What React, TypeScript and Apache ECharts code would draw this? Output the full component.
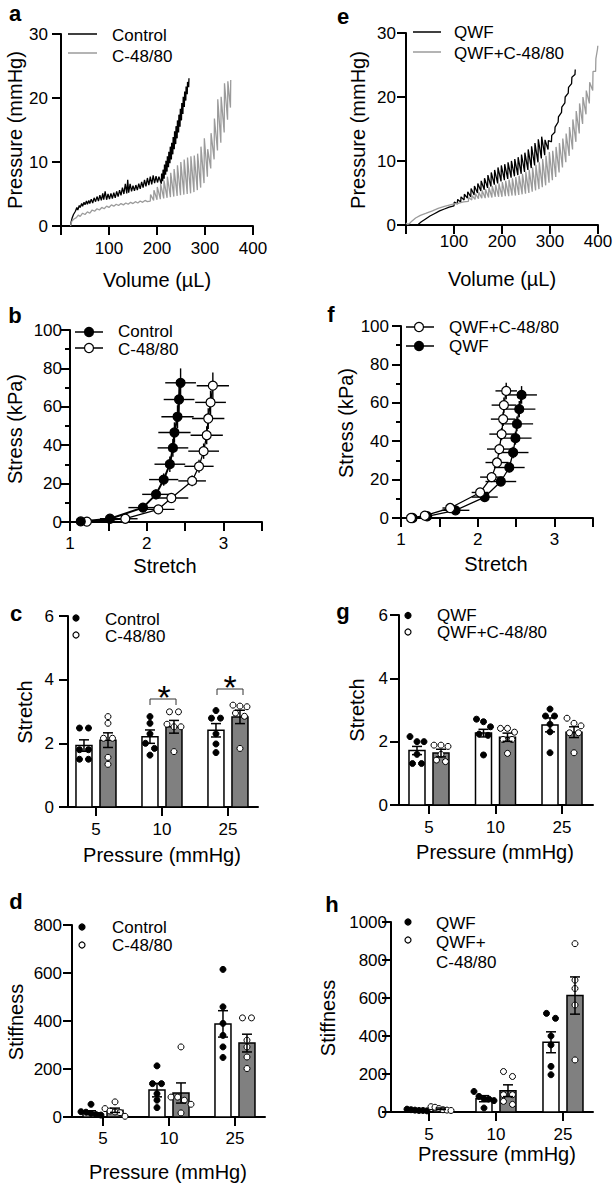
import React, { useEffect, useRef } from "react";
import * as echarts from "echarts";

const FONT = '"Liberation Sans", Arial, Helvetica, sans-serif';
const GRAY_LINE = "#9b9b9b";
const GRAY_BAR = "#808080";

// ---------- Panel a : pressure-volume (Control vs C-48/80) ----------
const aControlCurve: number[][] = [[20,0],[21,0.6],[23,1.2],[26,1.8],[30,2.3],[33,2.9],[35,2.5],[38,3.2],[40,2.9],[43,3.5],[45,3.1],[48,3.7],[50,3.3],[53,3.9],[55,3.4],[58,4.0],[60,3.5],[63,4.2],[66,3.6],[69,4.4],[72,3.8],[75,4.6],[78,3.9],[81,4.8],[84,4.0],[87,5.1],[89,4.1],[92,5.4],[95,4.1],[98,5.0],[101,4.2],[104,5.1],[107,4.3],[110,5.2],[113,4.4],[116,5.4],[119,4.6],[122,5.6],[125,4.8],[128,6.0],[131,5.0],[134,6.6],[137,5.1],[139,7.2],[141,5.2],[144,6.6],[147,5.4],[150,6.3],[153,5.5],[156,6.4],[159,5.6],[162,6.6],[165,5.8],[168,6.9],[171,6.0],[174,7.2],[177,6.2],[180,7.5],[183,6.4],[186,7.7],[189,6.5],[192,7.9],[195,6.7],[198,7.8],[201,6.8],[204,7.7]];
// [volume, trough, peak]
const aControlTeeth: number[][] = [[209,6.6,8.2],[212,7.0,8.8],[215,7.4,9.6],[218,8.0,10.2],[221,8.5,10.9],[224,9.2,11.6],[227,9.8,12.4],[230,10.4,13.0],[233,11.2,13.9],[236,12.0,14.8],[239,12.8,15.6],[242,13.7,16.5],[245,14.6,17.4],[248,15.5,18.3],[251,16.5,19.2],[254,17.5,20.2],[257,18.6,21.0],[260,19.6,21.8],[263,20.6,22.5],[266,21.7,23.1]];
const aC4880Curve: number[][] = [[20,0],[21,0.4],[23,0.8],[27,1.1],[32,1.3],[36,1.7],[40,1.5],[45,2.0],[50,1.8],[55,2.2],[60,2.0],[65,2.5],[70,2.3],[75,2.7],[80,2.5],[85,2.9],[90,2.7],[95,3.1],[100,2.9],[105,3.3],[110,3.1],[115,3.4],[120,3.2],[125,3.5],[130,3.3],[135,3.6],[140,3.4],[145,3.7],[150,3.5],[155,3.8],[160,3.6],[165,3.9],[170,3.7],[175,4.0],[180,3.8]];
const aC4880Teeth: number[][] = [[186,3.9,4.9],[193,4.0,5.6],[200,4.1,6.1],[207,4.2,6.6],[214,4.3,7.1],[221,4.4,7.7],[228,4.5,8.3],[235,4.6,8.9],[242,4.7,9.5],[249,4.8,10.0],[256,4.9,10.4],[263,5.0,10.7],[270,5.1,10.9],[277,5.3,11.0],[284,5.6,11.3],[291,6.0,12.4],[298,6.7,13.7],[305,7.7,12.0],[312,9.0,14.5],[319,10.4,16.8],[326,11.8,19.8],[333,13.0,20.2],[340,14.6,22.3],[347,16.6,22.6],[353,18.5,22.8]];

// ---------- Panel e : pressure-volume (QWF vs QWF+C-48/80) ----------
const eQwfCurve: number[][] = [[25,0],[27,0.2],[32,0.5],[40,0.9],[50,1.4],[60,1.8],[70,2.2],[80,2.5],[90,2.8]];
const eQwfTeeth: number[][] = [[100,3.0,3.6],[107,3.3,4.0],[114,3.6,4.4],[121,3.9,4.8],[128,4.2,5.2],[135,4.4,5.7],[142,4.7,6.1],[149,5.0,6.5],[156,5.3,6.9],[163,5.5,7.3],[170,5.8,7.8],[177,6.0,8.2],[184,6.3,8.6],[191,6.5,9.0],[198,6.8,9.3],[205,7.0,9.5],[212,7.2,9.8],[219,7.4,10.0],[226,7.6,10.3],[233,7.8,10.6],[240,8.0,11.0],[247,8.3,11.3],[254,8.6,11.8],[261,8.9,12.3],[268,9.3,12.8],[275,9.8,13.4],[282,10.4,13.8],[289,10.9,13.3],[296,11.8,13.2],[303,13.0,14.0],[310,14.5,15.3],[317,16.1,16.9],[324,17.6,18.4],[331,19.1,20.0],[338,20.6,21.5],[345,22.1,23.1],[352,23.5,24.3]];
const eQwfC4880Curve: number[][] = [[0,0.3],[3,0.1],[7,0.2],[12,0.6],[20,1.1],[30,1.5],[41,1.8],[55,2.2],[67,2.6],[80,2.9],[90,3.1],[100,3.3],[110,3.4],[120,3.6]];
const eQwfC4880Teeth: number[][] = [[130,3.7,4.3],[137,3.9,4.6],[144,4.0,4.9],[151,4.1,5.1],[158,4.2,5.4],[165,4.2,5.6],[172,4.3,5.9],[179,4.3,6.1],[186,4.4,6.3],[193,4.4,6.5],[200,4.4,6.7],[207,4.5,6.9],[214,4.5,7.1],[221,4.6,7.3],[228,4.6,7.5],[235,4.7,7.7],[242,4.8,8.0],[249,4.9,8.3],[256,5.0,8.6],[263,5.2,9.0],[270,5.4,9.4],[277,5.6,9.8],[284,5.9,10.3],[291,6.2,10.8],[298,6.6,11.4],[305,7.0,11.6],[312,7.5,12.2],[319,8.2,12.8],[326,9.0,13.5],[333,9.8,14.3],[340,10.8,15.3],[347,11.8,16.5],[354,13.0,17.8],[361,14.3,19.0],[368,15.8,20.0],[375,17.3,21.0],[382,19.0,22.3],[389,21.0,24.0],[395,24.0,26.0],[399,27.5,28.0]];

// ---------- Panel b : stress-stretch ----------
const bControlStretch = [1.14, 1.52, 1.95, 2.12, 2.22, 2.30, 2.34, 2.36, 2.40, 2.42, 2.44];
const bControlStretchErr = [0.03, 0.13, 0.19, 0.18, 0.19, 0.2, 0.2, 0.21, 0.21, 0.2, 0.2];
const bControlStress = [0.3, 1.7, 7.5, 14.4, 22.1, 30.1, 38.6, 46.6, 54.8, 63.8, 72.5];
const bControlStressErr = [0.2, 0.6, 1.5, 2.5, 3.2, 4, 4.6, 5.3, 6, 6.7, 7.5];
const bC4880Stretch = [1.22, 1.72, 2.15, 2.32, 2.59, 2.68, 2.74, 2.78, 2.80, 2.83, 2.86];
const bC4880StretchErr = [0.05, 0.16, 0.21, 0.22, 0.18, 0.19, 0.2, 0.21, 0.21, 0.2, 0.21];
const bC4880Stress = [0.2, 1.7, 6.6, 12.5, 21.4, 29.0, 36.9, 45.2, 53.9, 62.3, 71.0];
const bC4880StressErr = [0.2, 0.5, 1.3, 2, 2.8, 3.4, 4, 4.7, 5.4, 6.1, 6.8];

// ---------- Panel f : stress-stretch ----------
const fQwfC4880Stretch = [1.13, 1.31, 1.64, 2.03, 2.18, 2.25, 2.28, 2.31, 2.33, 2.34, 2.37];
const fQwfC4880StretchErr = [0.02, 0.05, 0.1, 0.11, 0.15, 0.15, 0.16, 0.16, 0.16, 0.16, 0.14];
const fQwfC4880Stress = [0, 1.2, 5.2, 13.3, 21.3, 28.9, 35.9, 43.7, 51.5, 58.8, 66.2];
const fQwfC4880StressErr = [0.1, 0.3, 1, 1.6, 2, 2.4, 2.8, 3.2, 3.6, 4, 4.3];
const fQwfStretch = [1.15, 1.34, 1.71, 2.09, 2.30, 2.41, 2.46, 2.49, 2.51, 2.54, 2.57];
const fQwfStretchErr = [0.02, 0.06, 0.18, 0.17, 0.2, 0.2, 0.2, 0.21, 0.21, 0.21, 0.2];
const fQwfStress = [0, 0.9, 4.0, 10.9, 19.0, 26.3, 34.1, 41.6, 49.0, 56.7, 64.1];
const fQwfStressErr = [0.1, 0.3, 0.9, 1.5, 2, 2.5, 3, 3.4, 3.8, 4.2, 4.6];

// ---------- Bar panels ----------
const pressureCats = ["5", "10", "25"];

const cControlMean = [1.93, 2.21, 2.41];
const cControlSem = [0.18, 0.21, 0.21];
const cC4880Mean = [2.10, 2.52, 2.83];
const cC4880Sem = [0.23, 0.2, 0.21];
const cControlDots = [[2.48,2.48,1.8,1.8,1.5,1.5],[2.84,2.63,2.3,2.0,1.84,1.63],[3.03,2.79,2.79,2.3,1.98,1.71]];
const cC4880Dots = [[2.84,2.63,2.16,2.16,1.56,1.34],[2.99,2.99,2.6,2.52,2.52,1.74],[3.2,3.17,3.15,2.95,2.85,1.84]];

const dControlMean = [18, 112, 388];
const dControlSem = [8, 28, 55];
const dC4880Mean = [28, 100, 308];
const dC4880Sem = [9, 42, 37];
const dControlDots = [[53,22,20,15,10,8],[213,139,139,97,70,39],[615,459,390,340,292,248]];
const dC4880Dots = [[63,35,25,21,18,3],[292,83,83,70,53,17],[413,413,320,292,250,202]];

const gQwfMean = [1.72, 2.27, 2.53];
const gQwfSem = [0.13, 0.12, 0.22];
const gQwfC4880Mean = [1.64, 2.14, 2.30];
const gQwfC4880Sem = [0.12, 0.13, 0.17];
const gQwfDots = [[2.16,2.0,2.0,1.6,1.31,1.31],[2.71,2.63,2.47,2.24,2.2,1.58],[3.03,2.81,2.81,2.55,2.31,1.65]];
const gQwfC4880Dots = [[1.89,1.89,1.85,1.6,1.42,1.37],[2.42,2.42,2.3,2.07,2.07,1.63],[2.74,2.58,2.5,2.28,2.28,1.65]];

const hQwfMean = [10, 70, 367];
const hQwfSem = [2, 16, 55];
const hQwfC4880Mean = [17, 112, 613];
const hQwfC4880Sem = [4, 31, 98];
const hQwfDots = [[15,12,10,8,8,6],[108,82,70,68,60,21],[519,493,400,353,240,196]];
const hQwfC4880Dots = [[28,25,18,12,10,8],[213,187,91,91,56,40],[886,694,650,563,274]];

// ---------- helpers ----------
function sawtooth(curve: number[][], teeth: number[][]) {
  const out = curve.map((p) => [p[0], p[1]]);
  teeth.forEach(([v, lo, hi]) => {
    out.push([v, lo]);
    out.push([v + 0.6, hi]);
  });
  return out;
}

const tickFont = { fontFamily: FONT, fontSize: 17, color: "#000" };
const axLine = { show: true, onZero: false, lineStyle: { color: "#000", width: 2 } };
const axTick = { show: true, length: 9, lineStyle: { color: "#000", width: 2 } };
const plain = (v: number) => String(v);

function valueAxis(gridIndex: number, min: number, max: number, interval: number | undefined, margin: number, formatter: any = plain, extra: any = {}) {
  return {
    gridIndex,
    type: "value",
    min,
    max,
    interval,
    axisLine: axLine,
    axisTick: { ...axTick, ...(extra.axisTick || {}) },
    minorTick: extra.minorTick || { show: false },
    axisLabel: { ...tickFont, margin, formatter, ...(extra.axisLabel || {}) },
    splitLine: { show: false },
    minorSplitLine: { show: false },
  };
}

function catValueAxis(gridIndex: number, min: number, max: number, margin: number) {
  return valueAxis(gridIndex, min, max, undefined, margin, (v: number) => pressureCats[Math.round(v) - 1] ?? "", {
    axisTick: { customValues: [1, 2, 3] },
    axisLabel: { customValues: [1, 2, 3] },
  });
}

function lineSeries(idx: number, data: number[][], color: string, width: number) {
  return {
    type: "line",
    xAxisIndex: idx,
    yAxisIndex: idx,
    data,
    symbol: "none",
    showSymbol: false,
    smooth: false,
    lineStyle: { color, width },
    silent: true,
    z: 2,
  };
}

function xyPointSeries(idx: number, xs: number[], ys: number[], filled: boolean, width: number) {
  return {
    type: "line",
    xAxisIndex: idx,
    yAxisIndex: idx,
    data: xs.map((x, i) => [x, ys[i]]),
    symbol: "circle",
    symbolSize: 9,
    showSymbol: true,
    lineStyle: { color: "#000", width },
    itemStyle: { color: filled ? "#000" : "#fff", borderColor: "#000", borderWidth: 1.2 },
    z: 4,
    silent: true,
  };
}

function xyErrorSeries(idx: number, xs: number[], xe: number[], ys: number[], ye: number[]) {
  return {
    type: "custom",
    xAxisIndex: idx,
    yAxisIndex: idx,
    data: xs.map((x, i) => [x, ys[i], xe[i], ye[i]]),
    z: 3,
    silent: true,
    renderItem: (_p: any, api: any) => {
      const x = api.value(0), y = api.value(1), dx = api.value(2), dy = api.value(3);
      const l = api.coord([x - dx, y]);
      const r = api.coord([x + dx, y]);
      const t = api.coord([x, y + dy]);
      const b = api.coord([x, y - dy]);
      const st = { stroke: "#000", lineWidth: 1.4 };
      return {
        type: "group",
        children: [
          { type: "line", shape: { x1: l[0], y1: l[1], x2: r[0], y2: r[1] }, style: st },
          { type: "line", shape: { x1: t[0], y1: t[1], x2: b[0], y2: b[1] }, style: st },
        ],
      };
    },
  };
}

const BAR_OFF = 12;
const BAR_W = 16;

function barSeries(idx: number, means: number[], side: number, fill: string) {
  return {
    type: "custom",
    xAxisIndex: idx,
    yAxisIndex: idx,
    data: means.map((m, i) => [i + 1, m]),
    z: 2,
    silent: true,
    renderItem: (_p: any, api: any) => {
      const pos = api.value(0), m = api.value(1);
      const base = api.coord([pos, 0]);
      const top = api.coord([pos, m])[1];
      const cx = base[0] + side * BAR_OFF;
      return {
        type: "rect",
        shape: { x: cx - BAR_W / 2, y: top, width: BAR_W, height: base[1] - top },
        style: { fill, stroke: "#000", lineWidth: 1.5 },
      };
    },
  };
}

function semSeries(idx: number, means: number[], sems: number[], side: number) {
  return {
    type: "custom",
    xAxisIndex: idx,
    yAxisIndex: idx,
    data: means.map((m, i) => [i + 1, m, sems[i]]),
    z: 5,
    silent: true,
    renderItem: (_p: any, api: any) => {
      const pos = api.value(0), m = api.value(1), s = api.value(2);
      const cx = api.coord([pos, 0])[0] + side * BAR_OFF;
      const yt = api.coord([pos, m + s])[1];
      const yb = api.coord([pos, Math.max(0, m - s)])[1];
      const st = { stroke: "#000", lineWidth: 1.5 };
      return {
        type: "group",
        children: [
          { type: "line", shape: { x1: cx, y1: yt, x2: cx, y2: yb }, style: st },
          { type: "line", shape: { x1: cx - 5, y1: yt, x2: cx + 5, y2: yt }, style: st },
          { type: "line", shape: { x1: cx - 5, y1: yb, x2: cx + 5, y2: yb }, style: st },
        ],
      };
    },
  };
}

function swarmOffsets(ys: number[]) {
  const order = ys.map((y, i) => i).sort((a, b) => ys[a] - ys[b]);
  const offs = new Array(ys.length).fill(0);
  let cluster: number[] = [];
  const flush = () => {
    const n = cluster.length;
    if (n > 1) {
      const sp = Math.min(n === 2 ? 9 : 7, 20 / (n - 1));
      cluster.forEach((ix, j) => (offs[ix] = (j - (n - 1) / 2) * sp));
    }
    cluster = [];
  };
  order.forEach((ix) => {
    if (cluster.length && ys[ix] - ys[cluster[cluster.length - 1]] > 5.5) flush();
    cluster.push(ix);
  });
  flush();
  return offs;
}

function dotSeries(idx: number, groups: number[][], side: number, filled: boolean) {
  const data: number[][] = [];
  groups.forEach((vals, gi) => vals.forEach((v, k) => data.push([gi + 1, v, gi, k])));
  return {
    type: "custom",
    xAxisIndex: idx,
    yAxisIndex: idx,
    data,
    z: 4,
    silent: true,
    renderItem: (_p: any, api: any) => {
      const gi = api.value(2), k = api.value(3);
      const vals = groups[gi];
      const ys = vals.map((v) => api.coord([gi + 1, v])[1]);
      const offs = swarmOffsets(ys);
      const cx = api.coord([gi + 1, 0])[0] + side * BAR_OFF + offs[k];
      return {
        type: "circle",
        shape: { cx, cy: ys[k], r: 3 },
        style: { fill: filled ? "#000" : "#fff", stroke: "#000", lineWidth: 1 },
      };
    },
  };
}

// graphic helpers
function txt(text: string, x: number, y: number, size: number, opts: any = {}) {
  return {
    type: "text",
    x,
    y,
    rotation: opts.rotation || 0,
    silent: true,
    style: {
      text,
      fontFamily: FONT,
      fontSize: size,
      fontWeight: opts.bold ? "bold" : "normal",
      fill: "#000",
      align: opts.align || "left",
      verticalAlign: "middle",
    },
  };
}
function gline(x1: number, y1: number, x2: number, y2: number, stroke: string, w: number) {
  return { type: "line", silent: true, shape: { x1, y1, x2, y2 }, style: { stroke, lineWidth: w } };
}
function gcircle(cx: number, cy: number, r: number, filled: boolean) {
  return { type: "circle", silent: true, shape: { cx, cy, r }, style: { fill: filled ? "#000" : "#fff", stroke: "#000", lineWidth: 1.2 } };
}
const ytitle = (t: string, x: number, y: number) => txt(t, x, y, 20, { rotation: Math.PI / 2, align: "center" });
const xtitle = (t: string, x: number, y: number) => txt(t, x, y, 20, { align: "center" });
const plabel = (t: string, x: number, y: number) => txt(t, x, y, 22, { bold: true, align: "center" });

const intLabel = (v: number) => (Math.abs(v - Math.round(v)) < 1e-6 && v < 3.4 ? String(Math.round(v)) : "");
const noZero = (v: number) => (v === 0 ? "" : String(v));

function buildOption() {
  const grids = [
    { left: 61, top: 34, width: 192, height: 192 }, // 0 a
    { left: 406, top: 33, width: 192, height: 192 }, // 1 e
    { left: 70, top: 330, width: 192, height: 192 }, // 2 b
    { left: 401, top: 326, width: 192, height: 192 }, // 3 f
    { left: 68, top: 616, width: 190, height: 191 }, // 4 c
    { left: 399, top: 615, width: 194, height: 190 }, // 5 g
    { left: 72, top: 925, width: 193, height: 192 }, // 6 d
    { left: 391, top: 922, width: 202, height: 190 }, // 7 h
  ].map((g) => ({ ...g, containLabel: false, outerBoundsMode: "none" }));

  const minor = { minorTick: { show: true, splitNumber: 2, length: 5, lineStyle: { color: "#000", width: 2 } } };

  const xAxis = [
    valueAxis(0, 0, 400, 100, 14, noZero),
    valueAxis(1, 0, 400, 100, 8, noZero),
    valueAxis(2, 1, 3.5, 0.5, 13, intLabel),
    valueAxis(3, 1, 3.5, 0.5, 13, intLabel),
    catValueAxis(4, 0.576, 3.455, 14),
    catValueAxis(5, 0.549, 3.466, 14),
    catValueAxis(6, 0.53, 3.455, 13),
    catValueAxis(7, 0.433, 3.448, 14),
  ];
  const yAxis = [
    valueAxis(0, 0, 30, 10, 13),
    valueAxis(1, 0, 30, 10, 10),
    valueAxis(2, 0, 100, 20, 8, plain, minor),
    valueAxis(3, 0, 100, 20, 12, plain, minor),
    valueAxis(4, 0, 6, 2, 14),
    valueAxis(5, 0, 6, 2, 11),
    valueAxis(6, 0, 800, 200, 10),
    valueAxis(7, 0, 1000, 200, 4),
  ];

  const series: any[] = [
    // a
    lineSeries(0, sawtooth(aControlCurve, aControlTeeth), "#000", 1.3),
    lineSeries(0, sawtooth(aC4880Curve, aC4880Teeth), GRAY_LINE, 1.3),
    // e
    lineSeries(1, sawtooth(eQwfCurve, eQwfTeeth), "#000", 1.3),
    lineSeries(1, sawtooth(eQwfC4880Curve, eQwfC4880Teeth), GRAY_LINE, 1.3),
    // b
    xyErrorSeries(2, bControlStretch, bControlStretchErr, bControlStress, bControlStressErr),
    xyErrorSeries(2, bC4880Stretch, bC4880StretchErr, bC4880Stress, bC4880StressErr),
    xyPointSeries(2, bC4880Stretch, bC4880Stress, false, 1.3),
    xyPointSeries(2, bControlStretch, bControlStress, true, 2),
    // f
    xyErrorSeries(3, fQwfStretch, fQwfStretchErr, fQwfStress, fQwfStressErr),
    xyErrorSeries(3, fQwfC4880Stretch, fQwfC4880StretchErr, fQwfC4880Stress, fQwfC4880StressErr),
    xyPointSeries(3, fQwfStretch, fQwfStress, true, 1.3),
    xyPointSeries(3, fQwfC4880Stretch, fQwfC4880Stress, false, 1.3),
    // c
    barSeries(4, cControlMean, -1, "#fff"),
    barSeries(4, cC4880Mean, 1, GRAY_BAR),
    dotSeries(4, cControlDots, -1, true),
    dotSeries(4, cC4880Dots, 1, false),
    semSeries(4, cControlMean, cControlSem, -1),
    semSeries(4, cC4880Mean, cC4880Sem, 1),
    // g
    barSeries(5, gQwfMean, -1, "#fff"),
    barSeries(5, gQwfC4880Mean, 1, GRAY_BAR),
    dotSeries(5, gQwfDots, -1, true),
    dotSeries(5, gQwfC4880Dots, 1, false),
    semSeries(5, gQwfMean, gQwfSem, -1),
    semSeries(5, gQwfC4880Mean, gQwfC4880Sem, 1),
    // d
    barSeries(6, dControlMean, -1, "#fff"),
    barSeries(6, dC4880Mean, 1, GRAY_BAR),
    dotSeries(6, dControlDots, -1, true),
    dotSeries(6, dC4880Dots, 1, false),
    semSeries(6, dControlMean, dControlSem, -1),
    semSeries(6, dC4880Mean, dC4880Sem, 1),
    // h
    barSeries(7, hQwfMean, -1, "#fff"),
    barSeries(7, hQwfC4880Mean, 1, GRAY_BAR),
    dotSeries(7, hQwfDots, -1, true),
    dotSeries(7, hQwfC4880Dots, 1, false),
    semSeries(7, hQwfMean, hQwfSem, -1),
    semSeries(7, hQwfC4880Mean, hQwfC4880Sem, 1),
  ];

  const graphic: any[] = [
    // panel letters
    plabel("a", 15, 13), plabel("e", 343, 16), plabel("b", 15, 315), plabel("f", 331, 314),
    plabel("c", 16, 613), plabel("g", 343, 611), plabel("d", 16, 901), plabel("h", 332, 904),
    // axis titles
    ytitle("Pressure (mmHg)", 15, 130), xtitle("Volume (µL)", 157, 280),
    ytitle("Pressure (mmHg)", 358, 130), xtitle("Volume (µL)", 502, 279),
    ytitle("Stress (kPa)", 15, 429), xtitle("Stretch", 165, 566),
    ytitle("Stress (kPa)", 346, 423), xtitle("Stretch", 496, 564),
    ytitle("Stretch", 25, 712), xtitle("Pressure (mmHg)", 162, 855),
    ytitle("Stretch", 357, 710), xtitle("Pressure (mmHg)", 495, 852),
    ytitle("Stiffness", 16, 1022), xtitle("Pressure (mmHg)", 168, 1172),
    ytitle("Stiffness", 328, 1018), xtitle("Pressure (mmHg)", 497, 1154),
    // legend a
    gline(68, 34, 97, 34, "#000", 1.5), gline(68, 53, 97, 53, GRAY_LINE, 1.5),
    txt("Control", 112, 35, 17), txt("C-48/80", 112, 56, 17),
    // legend e
    gline(413, 32, 441, 32, "#000", 1.5), gline(413, 52, 441, 52, GRAY_LINE, 1.5),
    txt("QWF", 454, 32, 17), txt("QWF+C-48/80", 454, 53, 17),
    // legend b
    gline(75, 332, 103, 332, "#000", 1.5), gcircle(89, 332, 4.5, true),
    gline(75, 348, 103, 348, "#000", 1.5), gcircle(89, 348, 4.5, false),
    txt("Control", 118, 331, 17), txt("C-48/80", 118, 349, 17),
    // legend f
    gline(406, 327, 434, 327, "#000", 1.5), gcircle(419, 327, 4.5, false),
    gline(406, 346, 434, 346, "#000", 1.5), gcircle(419, 346, 4.5, true),
    txt("QWF+C-48/80", 449, 327, 17), txt("QWF", 449, 346, 17),
    // legend c
    gcircle(76, 618, 3, true), gcircle(76, 635, 3, false),
    txt("Control", 105, 619, 17), txt("C-48/80", 105, 636, 17),
    // legend g
    gcircle(408, 615.5, 3, true), gcircle(408, 632, 3, false),
    txt("QWF", 437, 615, 17), txt("QWF+C-48/80", 437, 632, 17),
    // legend d
    gcircle(82, 927, 3, true), gcircle(82, 945, 3, false),
    txt("Control", 112, 927, 17), txt("C-48/80", 112, 945, 17),
    // legend h
    gcircle(408, 922, 3, true), gcircle(408, 940, 3, false),
    txt("QWF", 436, 923, 17), txt("QWF+", 436, 942, 17), txt("C-48/80", 436, 962, 17),
    // significance brackets (panel c)
    { type: "polyline", silent: true, shape: { points: [[150, 705], [150, 699], [176, 699], [176, 705]] }, style: { stroke: "#333", lineWidth: 1, fill: "none" } },
    { type: "polyline", silent: true, shape: { points: [[217, 695], [217, 689], [243, 689], [243, 695]] }, style: { stroke: "#333", lineWidth: 1, fill: "none" } },
    txt("*", 164, 697, 34, { align: "center" }),
    txt("*", 230, 687, 34, { align: "center" }),
  ];

  return {
    animation: false,
    backgroundColor: "#fff",
    grid: grids,
    xAxis,
    yAxis,
    series,
    graphic,
  };
}

export default function App() {
  const ref = useRef<HTMLDivElement | null>(null);
  useEffect(() => {
    if (!ref.current) return;
    const chart = echarts.init(ref.current, null, { renderer: "svg" });
    chart.setOption(buildOption() as any);
    return () => chart.dispose();
  }, []);
  return (
    <div
      ref={ref}
      style={{ position: "absolute", left: 0, top: 0, width: 613, height: 1186, background: "#fff" }}
    />
  );
}
